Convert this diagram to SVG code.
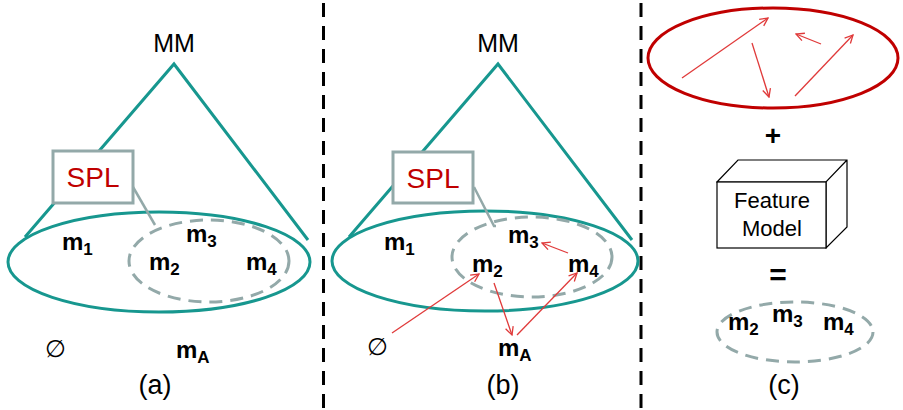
<svg xmlns="http://www.w3.org/2000/svg" width="903" height="410" viewBox="0 0 903 410">
<defs>
<style>
.teal{fill:none;stroke:#17978f;stroke-width:3}
.spl{fill:#fff;stroke:#93a9a9;stroke-width:3}
.lead{fill:none;stroke:#93a9a9;stroke-width:2.5}
.dash{fill:none;stroke:#93a9a9;stroke-width:3;stroke-dasharray:13 8}
.div{fill:none;stroke:#000;stroke-width:3;stroke-dasharray:14 9}
.arr{fill:none;stroke:#e03a3a;stroke-width:1.3;marker-end:url(#ah)}
.t{font-family:"Liberation Sans",Arial,sans-serif;fill:#000}
.m{font-family:"Liberation Sans",Arial,sans-serif;font-weight:bold;font-size:24px;fill:#000}
.sub{font-size:17px}
.red{fill:#c00000}
</style>
<marker id="ah" viewBox="0 0 10 10" refX="9" refY="5" markerWidth="10" markerHeight="10" markerUnits="userSpaceOnUse" orient="auto">
<path d="M1,1 L9,5 L1,9" fill="none" stroke="#e03a3a" stroke-width="1.3"/>
</marker>
</defs>
<rect width="903" height="410" fill="#fff"/>
<g id="dividers">
<line class="div" x1="323.5" y1="3" x2="323.5" y2="410"/>
<line class="div" x1="641" y1="3" x2="641" y2="410"/>
</g>
<g id="panel-a">
<text class="t" x="174" y="52" font-size="25" text-anchor="middle">MM</text>
<polyline class="teal" points="25,237 174,64 308,240"/>
<ellipse class="teal" cx="159" cy="262" rx="151" ry="50"/>
<ellipse class="dash" cx="209" cy="261" rx="80" ry="41"/>
<line class="lead" x1="133" y1="187" x2="155" y2="225"/>
<g id="spl-a"><rect class="spl" x="53" y="151" width="80" height="52"/>
<text class="t red" x="93" y="187" font-size="28" text-anchor="middle">SPL</text></g>
<text class="m" x="62" y="250">m<tspan class="sub" dy="5">1</tspan></text>
<text class="m" x="186" y="242">m<tspan class="sub" dy="5">3</tspan></text>
<text class="m" x="149" y="270">m<tspan class="sub" dy="5">2</tspan></text>
<text class="m" x="246" y="270">m<tspan class="sub" dy="5">4</tspan></text>
<text class="t" x="45" y="357" font-size="24">∅</text>
<text class="m" x="176" y="358">m<tspan class="sub" dy="5">A</tspan></text>
<text class="t" x="155" y="394" font-size="27" text-anchor="middle">(a)</text>
</g>
<g id="panel-b">
<text class="t" x="498" y="52" font-size="25" text-anchor="middle">MM</text>
<polyline class="teal" points="349,237 498,64 632,240"/>
<ellipse class="teal" cx="485" cy="261" rx="153" ry="50"/>
<ellipse class="dash" cx="532" cy="257" rx="80" ry="40"/>
<polyline class="lead" points="474,187 494,226 496,226"/>
<g id="spl-b"><rect class="spl" x="393" y="152" width="80" height="51"/>
<text class="t red" x="433" y="188" font-size="28" text-anchor="middle">SPL</text></g>
<text class="m" x="384" y="250">m<tspan class="sub" dy="5">1</tspan></text>
<text class="m" x="508" y="243">m<tspan class="sub" dy="5">3</tspan></text>
<text class="m" x="472" y="272">m<tspan class="sub" dy="5">2</tspan></text>
<text class="m" x="568" y="272">m<tspan class="sub" dy="5">4</tspan></text>
<text class="t" x="367" y="355" font-size="24">∅</text>
<text class="m" x="498" y="356">m<tspan class="sub" dy="5">A</tspan></text>
<text class="t" x="503" y="394" font-size="27" text-anchor="middle">(b)</text>
<g id="connectors-b">
<line class="arr" x1="392" y1="333" x2="479" y2="274"/>
<line class="arr" x1="494" y1="283" x2="512" y2="335"/>
<line class="arr" x1="517" y1="335" x2="577" y2="273"/>
<line class="arr" x1="568" y1="253" x2="542" y2="243"/>
</g>
</g>
<g id="panel-c">
<ellipse cx="773" cy="58" rx="125" ry="50" fill="none" stroke="#c00000" stroke-width="3"/>
<g id="connectors-c">
<line class="arr" x1="682" y1="78" x2="768" y2="18"/>
<line class="arr" x1="752" y1="43" x2="769" y2="97"/>
<line class="arr" x1="821" y1="44" x2="796" y2="34"/>
<line class="arr" x1="795" y1="96" x2="853" y2="35"/>
</g>
<text class="t" x="773" y="145" font-size="28" font-weight="bold" text-anchor="middle">+</text>
<g id="feature-model">
<path d="M717,182 L738,160 L847,160 L847,227 L826,248 Z M717,182 L826,182 L847,160 M826,182 L826,248" fill="#fff" stroke="#000" stroke-width="1.2"/>
<rect x="717" y="182" width="109" height="66" fill="#fff" stroke="#000" stroke-width="1.2"/>
<text class="t" x="772" y="208" font-size="22" text-anchor="middle">Feature</text>
<text class="t" x="772" y="236" font-size="22" text-anchor="middle">Model</text>
</g>
<text class="t" x="778" y="285" font-size="30" font-weight="bold" text-anchor="middle">=</text>
<ellipse class="dash" cx="795" cy="332" rx="78" ry="30"/>
<text class="m" x="728" y="330">m<tspan class="sub" dy="5">2</tspan></text>
<text class="m" x="772" y="322">m<tspan class="sub" dy="5">3</tspan></text>
<text class="m" x="823" y="330">m<tspan class="sub" dy="5">4</tspan></text>
<text class="t" x="784" y="394" font-size="27" text-anchor="middle">(c)</text>
</g>
</svg>
